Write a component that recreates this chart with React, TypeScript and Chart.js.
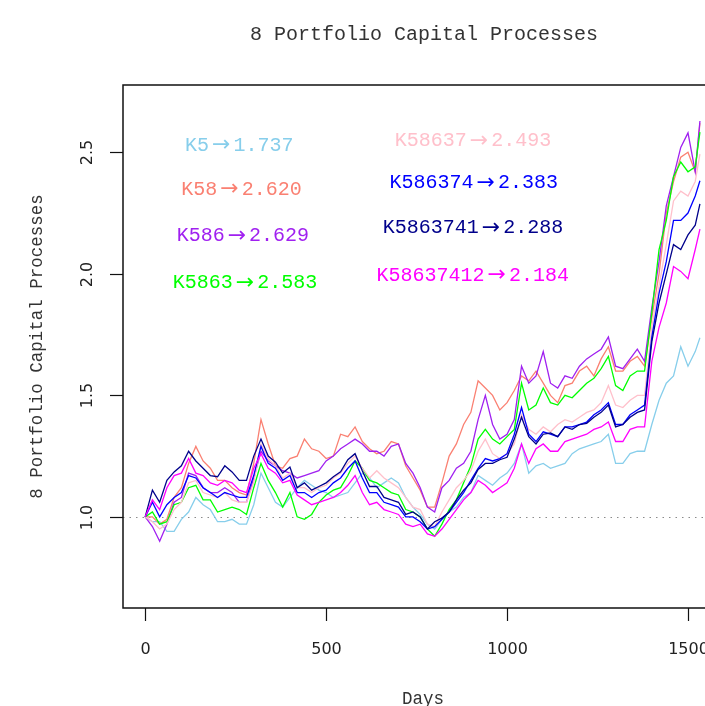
import React, { useEffect, useRef } from "react";
import { Chart, registerables } from "chart.js";

Chart.register(...registerables);

// ---------- data ----------
const days = [0, 20, 40, 60, 80, 100, 120, 140, 160, 180, 200, 220, 240, 260, 280, 300, 320, 340, 360, 380, 400, 420, 440, 460, 480, 500, 520, 540, 560, 580, 600, 620, 640, 660, 680, 700, 720, 740, 760, 780, 800, 820, 840, 860, 880, 900, 920, 940, 960, 980, 1000, 1020, 1040, 1060, 1080, 1100, 1120, 1140, 1160, 1180, 1200, 1220, 1240, 1260, 1280, 1300, 1320, 1340, 1360, 1380, 1400, 1420, 1440, 1460, 1480, 1500, 1520, 1533];

const k5 = [1.00, 0.98, 0.98, 0.94, 0.94, 0.99, 1.02, 1.08, 1.05, 1.03, 0.98, 0.98, 0.99, 0.97, 0.97, 1.05,
  1.18, 1.12, 1.06, 1.04, 1.08, 1.12, 1.15, 1.13, 1.11, 1.10, 1.08, 1.09, 1.10, 1.14, 1.18, 1.16,
  1.12, 1.14, 1.16, 1.14, 1.08, 1.04, 1.01, 0.97, 0.95, 0.99, 1.02, 1.04, 1.08, 1.10, 1.17, 1.15, 1.13, 1.16, 1.18,
  1.22, 1.30, 1.18, 1.21, 1.22, 1.20, 1.21, 1.22, 1.26, 1.28, 1.29, 1.30, 1.31,
  1.34, 1.22, 1.22, 1.26, 1.27, 1.27,
  1.38, 1.48, 1.55, 1.58, 1.70, 1.62, 1.68, 1.737];

const k58 = [1.00, 1.00, 0.97, 0.99, 1.08, 1.12, 1.22, 1.29, 1.23, 1.20, 1.15, 1.15, 1.12, 1.10, 1.09, 1.22,
  1.40, 1.30, 1.21, 1.20, 1.24, 1.25, 1.32, 1.28, 1.27, 1.24, 1.25, 1.34, 1.33, 1.37, 1.31, 1.28,
  1.26, 1.27, 1.31, 1.30, 1.21, 1.16, 1.11, 1.04, 1.04, 1.14, 1.25, 1.30, 1.38, 1.43, 1.56, 1.53, 1.50, 1.44, 1.47,
  1.52, 1.58, 1.56, 1.60, 1.55, 1.50, 1.47, 1.54, 1.55, 1.60, 1.62, 1.58, 1.65,
  1.70, 1.60, 1.60, 1.64, 1.66, 1.62,
  1.82, 2.00, 2.25, 2.38, 2.48, 2.50, 2.42, 2.620];

const k586 = [1.00, 0.96, 0.90, 0.97, 1.06, 1.08, 1.18, 1.17, 1.12, 1.10, 1.10, 1.12, 1.10, 1.06, 1.06, 1.16,
  1.27, 1.23, 1.21, 1.19, 1.18, 1.16, 1.17, 1.18, 1.19, 1.23, 1.25, 1.28, 1.30, 1.32, 1.30, 1.27,
  1.27, 1.25, 1.29, 1.30, 1.22, 1.18, 1.12, 1.04, 1.02, 1.12, 1.15, 1.20, 1.22, 1.27, 1.40, 1.50, 1.38, 1.32, 1.34,
  1.40, 1.62, 1.55, 1.58, 1.68, 1.55, 1.53, 1.58, 1.57, 1.62, 1.65, 1.67, 1.69,
  1.74, 1.62, 1.61, 1.65, 1.69, 1.64,
  1.86, 2.05, 2.28, 2.40, 2.52, 2.58, 2.42, 2.629];

const k5863 = [1.00, 1.02, 0.97, 0.98, 1.05, 1.06, 1.12, 1.13, 1.07, 1.07, 1.02, 1.03, 1.04, 1.03, 1.01, 1.12,
  1.22, 1.15, 1.10, 1.04, 1.10, 1.00, 0.99, 1.01, 1.06, 1.09, 1.11, 1.12, 1.17, 1.23, 1.20, 1.15,
  1.14, 1.12, 1.10, 1.09, 1.03, 1.02, 1.00, 0.95, 0.92, 0.97, 1.03, 1.07, 1.14, 1.21, 1.32, 1.36, 1.32, 1.30, 1.33,
  1.36, 1.55, 1.44, 1.46, 1.53, 1.47, 1.46, 1.50, 1.49, 1.52, 1.55, 1.57, 1.61,
  1.66, 1.54, 1.52, 1.58, 1.60, 1.60,
  1.84, 2.10, 2.22, 2.40, 2.46, 2.42, 2.44, 2.583];

const k58637 = [1.00, 0.98, 0.95, 0.97, 1.03, 1.06, 1.14, 1.15, 1.10, 1.09, 1.08, 1.10, 1.07, 1.06, 1.06, 1.14,
  1.30, 1.24, 1.21, 1.16, 1.18, 1.12, 1.12, 1.10, 1.12, 1.13, 1.16, 1.18, 1.22, 1.25, 1.20, 1.16,
  1.19, 1.16, 1.14, 1.12, 1.08, 1.04, 1.03, 0.97, 0.96, 1.02, 1.07, 1.12, 1.15, 1.19, 1.27, 1.32, 1.26, 1.24, 1.26,
  1.30, 1.42, 1.36, 1.34, 1.37, 1.35, 1.38, 1.40, 1.39, 1.41, 1.43, 1.44, 1.47,
  1.54, 1.46, 1.45, 1.48, 1.50, 1.50,
  1.78, 1.95, 2.12, 2.30, 2.34, 2.32, 2.38, 2.493];

const k586374 = [1.00, 1.06, 1.00, 1.05, 1.08, 1.10, 1.17, 1.16, 1.12, 1.10, 1.08, 1.10, 1.09, 1.08, 1.08, 1.17,
  1.29, 1.22, 1.20, 1.15, 1.17, 1.10, 1.10, 1.08, 1.10, 1.11, 1.14, 1.16, 1.20, 1.23, 1.16, 1.10,
  1.10, 1.06, 1.05, 1.04, 1.00, 1.00, 0.98, 0.95, 0.96, 0.99, 1.02, 1.06, 1.10, 1.15, 1.20, 1.24, 1.23, 1.24, 1.26,
  1.34, 1.45, 1.34, 1.31, 1.35, 1.34, 1.33, 1.37, 1.37, 1.38, 1.39, 1.42, 1.44,
  1.47, 1.38, 1.38, 1.42, 1.44, 1.46,
  1.74, 1.92, 2.05, 2.22, 2.22, 2.25, 2.32, 2.383];

const k5863741 = [1.00, 1.11, 1.06, 1.15, 1.185, 1.21, 1.27, 1.23, 1.20, 1.17, 1.165, 1.21, 1.185, 1.15, 1.15, 1.25,
  1.32, 1.25, 1.225, 1.18, 1.205, 1.12, 1.14, 1.11, 1.125, 1.14, 1.165, 1.185, 1.235, 1.26, 1.19, 1.125,
  1.125, 1.08, 1.07, 1.06, 1.01, 1.02, 1.00, 0.95, 0.98, 0.995, 1.02, 1.07, 1.11, 1.14, 1.195, 1.22, 1.22, 1.235, 1.245,
  1.32, 1.41, 1.33, 1.30, 1.34, 1.345, 1.33, 1.37, 1.36, 1.38, 1.385, 1.41, 1.43,
  1.46, 1.37, 1.38, 1.41, 1.43, 1.44,
  1.72, 1.88, 2.00, 2.12, 2.10, 2.16, 2.20, 2.288];

const k58637412 = [1.00, 1.07, 1.03, 1.12, 1.17, 1.18, 1.24, 1.18, 1.17, 1.14, 1.13, 1.15, 1.14, 1.11, 1.10, 1.20,
  1.26, 1.20, 1.18, 1.14, 1.15, 1.09, 1.07, 1.05, 1.06, 1.07, 1.08, 1.10, 1.13, 1.17, 1.10, 1.05,
  1.06, 1.03, 1.02, 1.01, 0.97, 0.96, 0.97, 0.93, 0.92, 0.95, 0.99, 1.03, 1.07, 1.10, 1.15, 1.13, 1.10, 1.12, 1.14,
  1.20, 1.30, 1.22, 1.28, 1.30, 1.27, 1.27, 1.31, 1.32, 1.33, 1.34, 1.36, 1.37,
  1.39, 1.31, 1.31, 1.36, 1.37, 1.37,
  1.64, 1.78, 1.88, 2.03, 2.01, 1.98, 2.10, 2.184];

const seriesNames = ["K5", "K58", "K586", "K5863", "K58637", "K586374", "K5863741", "K58637412"];
const seriesValues = [k5, k58, k586, k5863, k58637, k586374, k5863741, k58637412];
const finalLabels = ["1.737", "2.620", "2.629", "2.583", "2.493", "2.383", "2.288", "2.184"];

const xTicks = [0, 500, 1000, 1500];
const yTicks = [1.0, 1.5, 2.0, 2.5];
const yTickLabels = ["1.0", "1.5", "2.0", "2.5"];

const titleText = "8 Portfolio Capital Processes";
const xTitle = "Days";
const yTitle = "8 Portfolio Capital Processes";

// ---------- styles / positions ----------
const colors = ["#87CEEB", "#FA8072", "#A020F0", "#00FF00", "#FFC0CB", "#0000FF", "#00008B", "#FF00FF"];
const labelPosX = [260, 266, 270, 276, 906, 908, 906, 905];
const labelPosY = [2.527, 2.346, 2.156, 1.963, 2.547, 2.374, 2.189, 1.992];

const MONO = '"Liberation Mono", "DejaVu Sans Mono", monospace';
const SANS = '"DejaVu Sans", "Liberation Sans", sans-serif';
const ARROW_FONT = '"DejaVu Sans", sans-serif';

const decorPlugin = {
  id: "decor",
  beforeDatasetsDraw(chart: any) {
    const { ctx, chartArea, scales } = chart;
    const y1 = Math.round(scales.y.getPixelForValue(1)) + 0.5;
    ctx.save();
    ctx.strokeStyle = "#8a8a8a";
    ctx.lineWidth = 1;
    ctx.setLineDash([1.5, 5]);
    ctx.beginPath();
    ctx.moveTo(chartArea.left, y1);
    ctx.lineTo(chartArea.right, y1);
    ctx.stroke();
    ctx.restore();
  },
  afterDraw(chart: any) {
    const { ctx, chartArea, scales } = chart;
    const { left, top, right, bottom } = chartArea;
    const xs = scales.x;
    const ys = scales.y;
    ctx.save();
    // box (right side lies outside the picture)
    ctx.strokeStyle = "#111";
    ctx.lineWidth = 1.5;
    ctx.beginPath();
    ctx.moveTo(right + 2, top);
    ctx.lineTo(left, top);
    ctx.lineTo(left, bottom);
    ctx.lineTo(right + 2, bottom);
    ctx.stroke();

    // x ticks
    ctx.lineWidth = 1.2;
    ctx.fillStyle = "#222";
    ctx.font = `16px ${SANS}`;
    ctx.textAlign = "center";
    ctx.textBaseline = "middle";
    xTicks.forEach((t) => {
      const px = Math.round(xs.getPixelForValue(t)) + 0.5;
      ctx.beginPath();
      ctx.moveTo(px, bottom);
      ctx.lineTo(px, bottom + 13);
      ctx.stroke();
      ctx.fillText(String(t), px, 650);
    });

    // y ticks
    yTicks.forEach((t, i) => {
      const py = Math.round(ys.getPixelForValue(t)) + 0.5;
      ctx.beginPath();
      ctx.moveTo(left, py);
      ctx.lineTo(left - 13, py);
      ctx.stroke();
      ctx.save();
      ctx.translate(88, py);
      ctx.rotate(-Math.PI / 2);
      ctx.fillText(yTickLabels[i], 0, 0);
      ctx.restore();
    });

    // titles
    ctx.fillStyle = "#333";
    ctx.font = `20px ${MONO}`;
    ctx.fillText(titleText, 424, 35);
    ctx.font = `17.5px ${MONO}`;
    ctx.fillText(xTitle, 423, 699);
    ctx.save();
    ctx.translate(37, (top + bottom) / 2);
    ctx.rotate(-Math.PI / 2);
    ctx.fillText(yTitle, 0, 0);
    ctx.restore();

    // annotations
    seriesNames.forEach((name, i) => {
      const cx = xs.getPixelForValue(labelPosX[i]);
      const cy = ys.getPixelForValue(labelPosY[i]);
      ctx.fillStyle = colors[i];
      ctx.font = `20px ${MONO}`;
      const wName = ctx.measureText(name).width;
      const wVal = ctx.measureText(finalLabels[i]).width;
      ctx.font = `22px ${ARROW_FONT}`;
      const wArr = ctx.measureText("\u2192").width;
      const gap = 3;
      const total = wName + gap + wArr + gap + wVal;
      let x0 = cx - total / 2;
      ctx.textAlign = "left";
      ctx.textBaseline = "middle";
      ctx.font = `20px ${MONO}`;
      ctx.fillText(name, x0, cy);
      x0 += wName + gap;
      ctx.font = `22px ${ARROW_FONT}`;
      ctx.fillText("\u2192", x0, cy);
      x0 += wArr + gap;
      ctx.font = `20px ${MONO}`;
      ctx.fillText(finalLabels[i], x0, cy);
    });
    ctx.restore();
  },
};

export default function App() {
  const canvasRef = useRef<HTMLCanvasElement | null>(null);

  useEffect(() => {
    const canvas = canvasRef.current;
    if (!canvas) return;
    const datasets = seriesNames.map((name, i) => ({
      label: name,
      data: days.map((d, j) => ({ x: d, y: seriesValues[i][j] })),
      borderColor: colors[i],
      backgroundColor: colors[i],
      borderWidth: 1.3,
      pointRadius: 0,
      tension: 0,
      fill: false,
      order: seriesNames.length - 1 - i,
    }));
    const chart = new Chart(canvas, {
      type: "line",
      data: { datasets },
      options: {
        responsive: false,
        animation: false,
        devicePixelRatio: 1,
        layout: { padding: { left: 123, top: 85, right: 0, bottom: 98 } },
        plugins: {
          legend: { display: false },
          tooltip: { enabled: false },
          title: { display: false },
        },
        scales: {
          x: { type: "linear", min: -61.3, max: 1547, display: false },
          y: { type: "linear", min: 0.625, max: 2.777, display: false },
        },
      },
      plugins: [decorPlugin],
    } as any);
    return () => chart.destroy();
  }, []);

  return (
    <div style={{ position: "absolute", left: 0, top: 0, width: 705, height: 706, background: "#fff" }}>
      <canvas ref={canvasRef} width={705} height={706} style={{ display: "block" }} />
    </div>
  );
}
